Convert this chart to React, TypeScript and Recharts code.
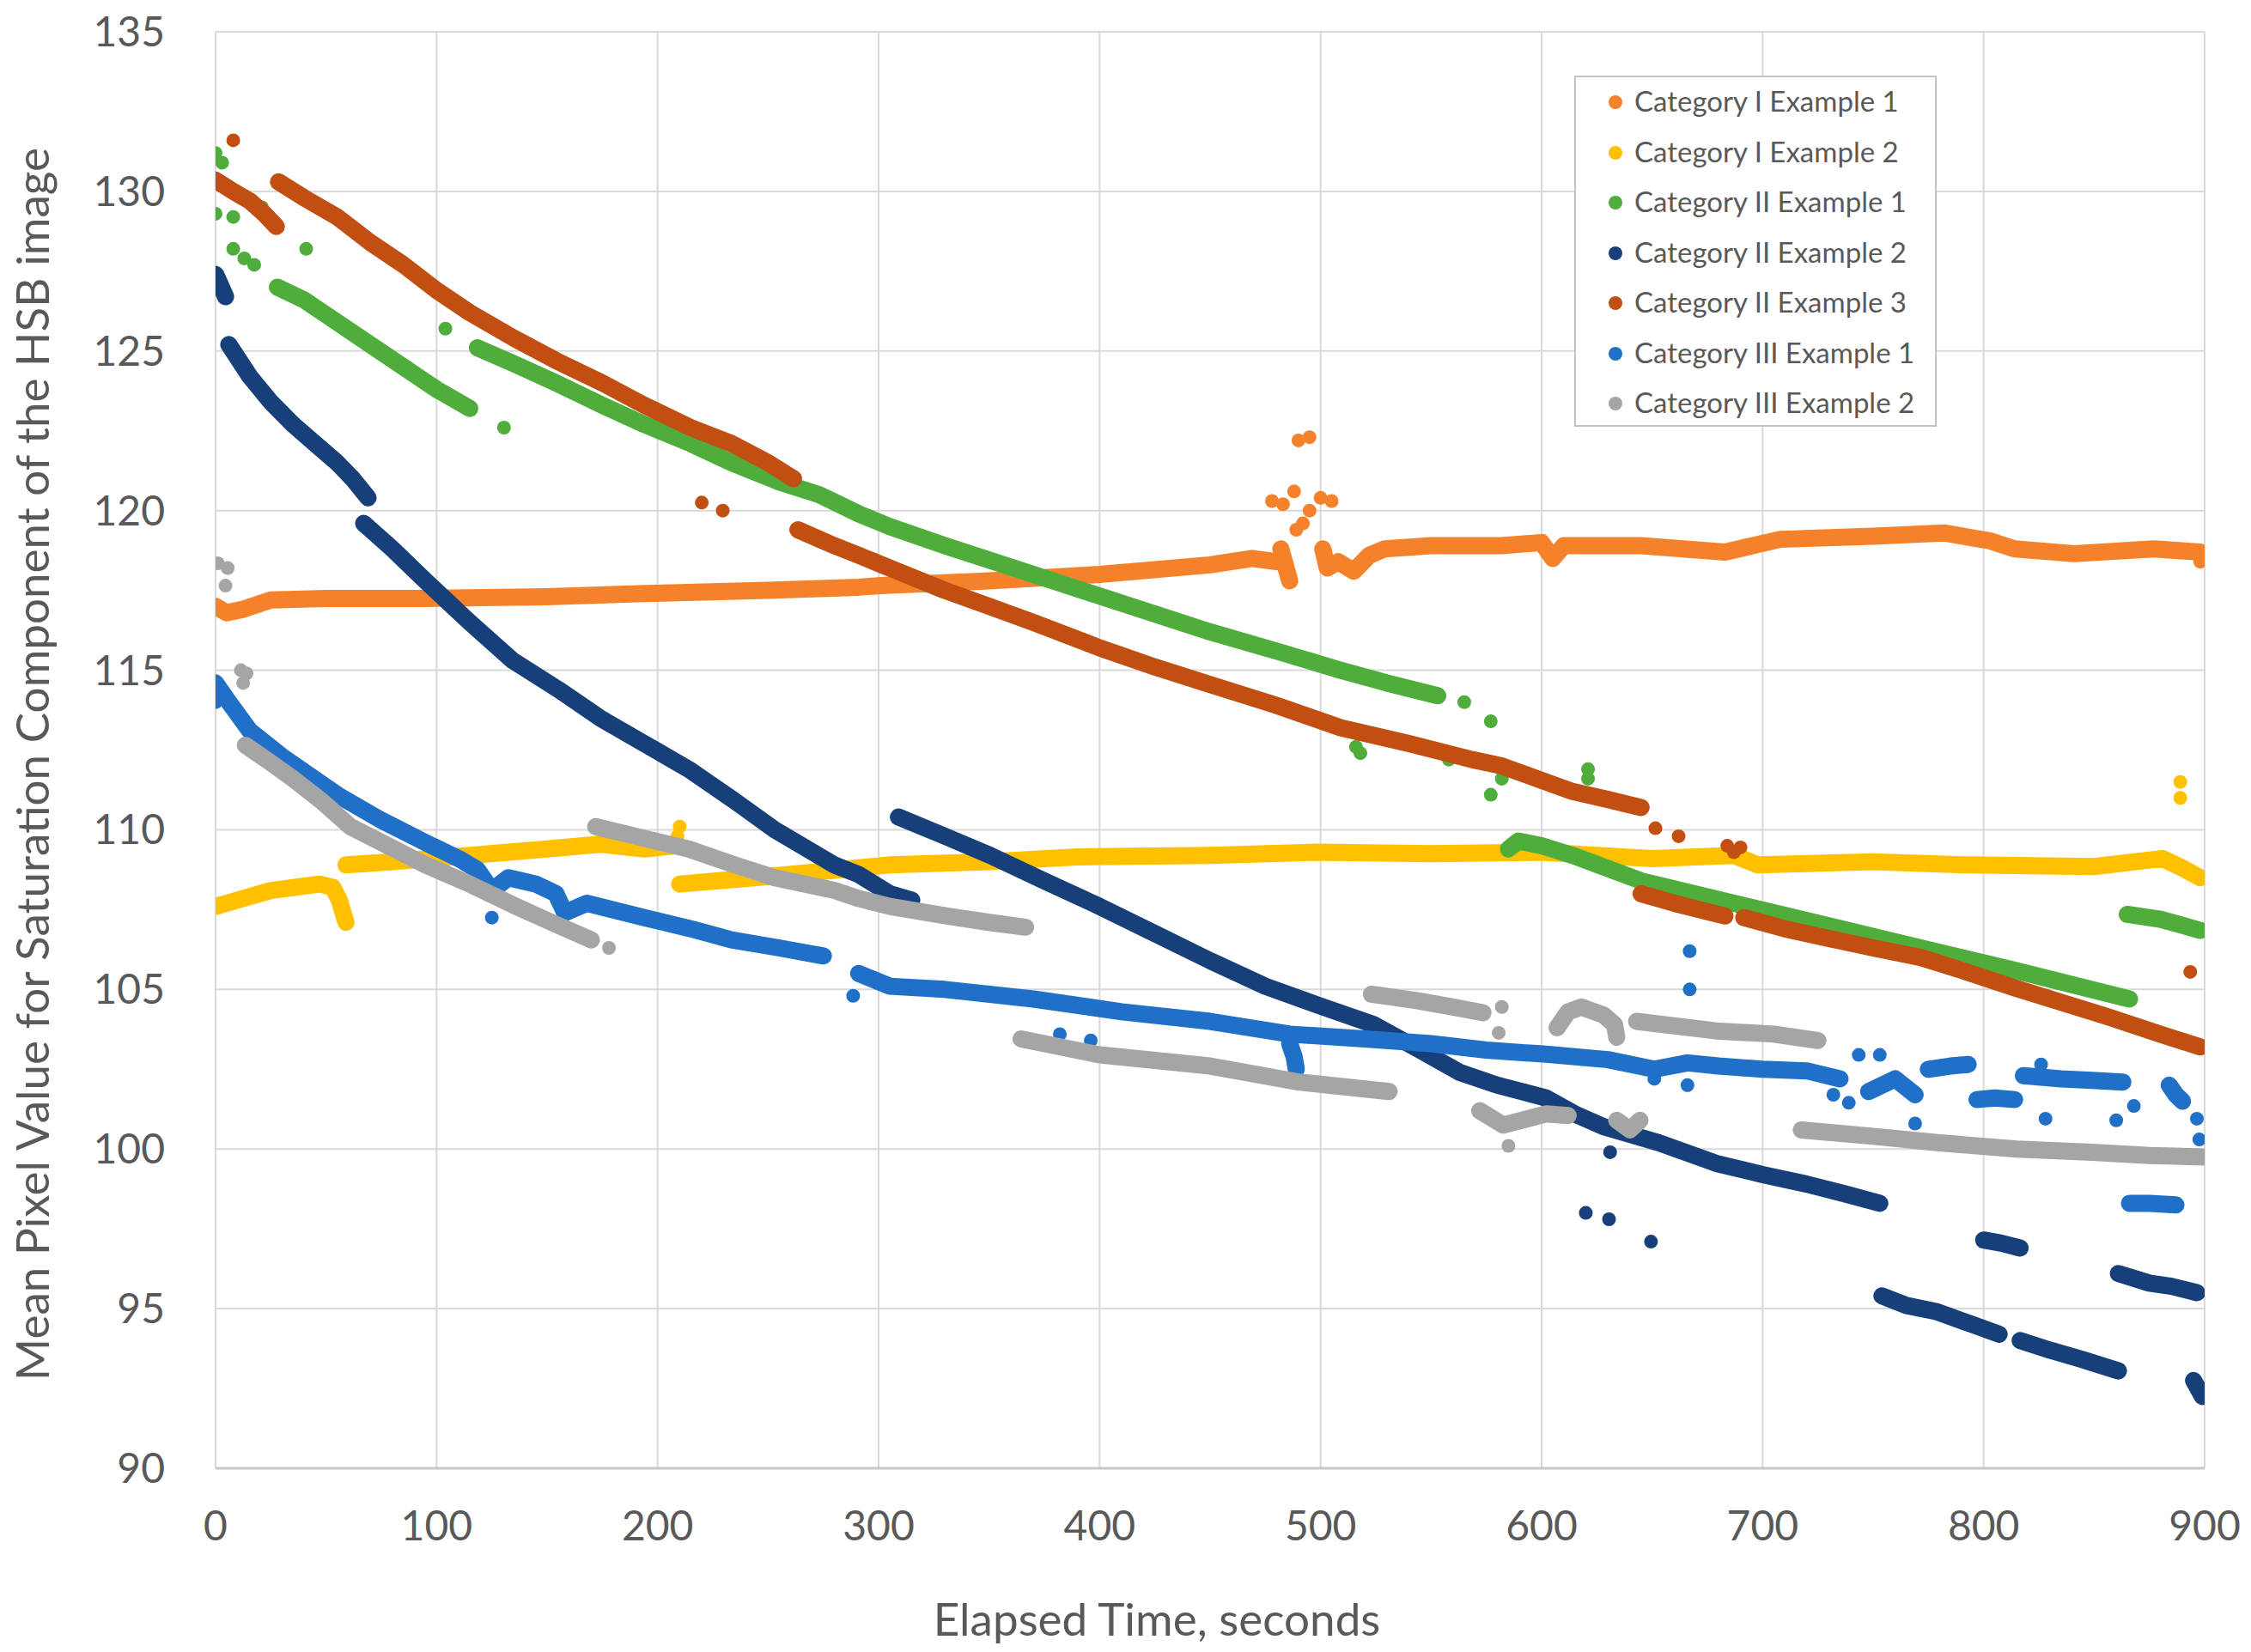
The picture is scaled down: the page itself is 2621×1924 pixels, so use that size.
import React from 'react';
import { ScatterChart, Scatter, XAxis, YAxis, CartesianGrid, Legend, Label } from 'recharts';

type Pt = [number, number];

const xTicks = [0, 100, 200, 300, 400, 500, 600, 700, 800, 900];
const yTicks = [90, 95, 100, 105, 110, 115, 120, 125, 130, 135];

// Category I Example 1
const catI1Segments: Pt[][] = [
  [[0, 117.0], [5, 116.8], [12, 116.9], [25, 117.2], [50, 117.25], [95, 117.25], [150, 117.3], [194, 117.4], [250, 117.5], [291, 117.6], [301, 117.65], [350, 117.8], [400, 118.0], [450, 118.3], [469, 118.5], [480, 118.4]],
  [[482, 118.8], [484, 118.3], [486, 117.8]],
  [[501, 118.8], [503, 118.2], [508, 118.4], [515, 118.1], [522, 118.6], [529, 118.8], [550, 118.9], [582, 118.9], [600, 119.0], [605, 118.5], [610, 118.9], [645, 118.9], [683, 118.7], [708, 119.1], [750, 119.2], [782, 119.3], [803, 119.05], [814, 118.8], [841, 118.65], [877, 118.8], [898, 118.7]],
];
const catI1Points: Pt[] = [[478, 120.3], [483, 120.2], [488, 120.6], [490, 122.2], [495, 122.3], [495, 120.0], [500, 120.4], [505, 120.3], [489, 119.4], [492, 119.6], [898, 118.4]];

// Category I Example 2
const catI2Segments: Pt[][] = [
  [[0, 107.6], [10, 107.8], [25, 108.1], [47, 108.3], [53, 108.2], [56, 107.8], [59, 107.1]],
  [[59, 108.9], [80, 109.0], [115, 109.2], [150, 109.4], [174, 109.55], [194, 109.4], [208, 109.5]],
  [[210, 108.3], [244, 108.5], [275, 108.7], [305, 108.9], [350, 109.0], [390, 109.15], [450, 109.2], [499, 109.3], [550, 109.25], [600, 109.3], [650, 109.1], [687, 109.2], [698, 108.9], [750, 109.0], [793, 108.9], [850, 108.85], [881, 109.1], [890, 108.8], [898, 108.5]],
];
const catI2Points: Pt[] = [[210, 110.1], [209, 109.8], [889, 111.5], [889, 111.0]];

// Category II Example 1
const catII1Segments: Pt[][] = [
  [[28, 127.0], [40, 126.6], [55, 125.9], [70, 125.2], [85, 124.5], [100, 123.8], [115, 123.2]],
  [[118.5, 125.1], [135, 124.6], [154, 124.0], [175, 123.3], [194, 122.7], [215, 122.1], [233.5, 121.5], [255, 120.9], [273, 120.5], [291, 119.9], [305, 119.5], [330, 118.9], [370, 118.0], [410, 117.1], [450, 116.2], [480, 115.6], [509, 115.0], [530, 114.6], [553, 114.2]],
  [[585, 109.4], [589.5, 109.65], [600, 109.5], [614, 109.2], [645, 108.4], [687, 107.7], [729.5, 107.0], [771.5, 106.3], [814, 105.6], [840, 105.15], [866, 104.7]],
  [[865, 107.35], [880, 107.2], [898, 106.85]],
];
const catII1Points: Pt[] = [[0, 131.2], [3, 130.9], [0, 129.3], [8, 129.2], [21, 129.5], [8, 128.2], [13, 127.9], [17.5, 127.7], [41, 128.2], [104, 125.7], [130.5, 122.6], [565, 114.0], [577, 113.4], [516, 112.6], [518, 112.4], [558, 112.2], [577, 111.1], [582, 111.6], [621, 111.9], [621, 111.6]];

// Category II Example 2
const catII2Segments: Pt[][] = [
  [[0, 127.4], [2, 127.1], [4.5, 126.7]],
  [[6, 125.2], [15.5, 124.2], [25, 123.4], [35, 122.7], [45, 122.1], [55, 121.5], [62, 121.0], [69, 120.4]],
  [[67, 119.6], [80, 118.8], [95, 117.8], [115, 116.5], [134.5, 115.3], [155, 114.4], [174, 113.5], [194, 112.7], [214, 111.9], [235, 110.9], [253, 110.0], [280, 108.9], [291, 108.6], [305, 108.0], [315, 107.8]],
  [[309, 110.4], [330, 109.8], [350.5, 109.2], [375, 108.4], [400, 107.6], [425, 106.75], [450, 105.9], [475, 105.1], [499, 104.5], [524, 103.9], [545, 103.1], [563, 102.4], [580, 102.0], [602, 101.6], [615, 101.1], [628, 100.7], [653, 100.2], [679, 99.55], [700, 99.2], [720, 98.9], [737, 98.6], [753, 98.3]],
  [[754, 95.4], [765, 95.1], [779, 94.9], [795, 94.5], [807, 94.2]],
  [[800, 97.15], [808, 97.05], [816.5, 96.9]],
  [[816.5, 94.0], [830, 93.7], [845, 93.4], [861, 93.05]],
  [[861, 96.1], [875, 95.8], [885, 95.7], [896.5, 95.5]],
  [[895, 92.75], [899, 92.25]],
];
const catII2Points: Pt[] = [[620, 98.0], [630.5, 97.8], [649.5, 97.1], [631, 99.9]];

// Category II Example 3
const catII3Segments: Pt[][] = [
  [[0, 130.35], [8, 130.0], [15.5, 129.7], [22, 129.3], [27.5, 128.9]],
  [[28.5, 130.3], [40, 129.8], [55, 129.2], [70, 128.4], [85, 127.7], [100, 126.9], [115, 126.2], [135, 125.4], [154, 124.7], [175, 124.0], [194, 123.3], [215, 122.6], [233.5, 122.1], [250, 121.5], [261.5, 121.0]],
  [[263.5, 119.4], [280, 118.9], [291, 118.6], [305, 118.2], [330, 117.5], [350, 117.0], [370, 116.5], [400, 115.7], [425, 115.1], [450, 114.55], [480, 113.9], [509, 113.2], [540, 112.7], [568.5, 112.2], [582, 112.0], [600, 111.55], [614, 111.2], [630, 110.95], [645, 110.7]],
  [[645, 108.0], [660, 107.7], [683, 107.3]],
  [[691.5, 107.25], [710, 106.9], [729.5, 106.6], [750, 106.3], [771.5, 106.0], [790, 105.6], [814, 105.05], [835, 104.6], [856, 104.15], [880, 103.6], [898, 103.2]],
];
const catII3Points: Pt[] = [[8, 131.6], [220, 120.25], [229.5, 120.0], [651.5, 110.05], [662, 109.8], [684, 109.5], [687, 109.3], [690, 109.45], [893.5, 105.55]];

// Category III Example 1
const catIII1Segments: Pt[][] = [
  [[0, 114.6], [5, 114.1], [15.5, 113.1], [30, 112.3], [55, 111.1], [75, 110.3], [95, 109.6], [110, 109.1], [118.5, 108.75], [125, 108.1], [132.5, 108.5], [145, 108.3], [154, 108.0], [158, 107.4], [168, 107.7], [194, 107.25], [215, 106.9], [233.5, 106.55], [255, 106.3], [275, 106.05]],
  [[291, 105.5], [305, 105.1], [330, 105.0], [370, 104.7], [410, 104.3], [450, 104.0], [486, 103.6], [520, 103.45], [550, 103.3], [575, 103.1], [602, 102.97], [630, 102.8], [651, 102.5], [666, 102.7], [680, 102.6], [700, 102.5], [720, 102.45], [735, 102.2]],
  [[486, 103.3], [488, 102.9], [489, 102.5]],
  [[748, 101.8], [760, 102.2], [769, 101.7]],
  [[775, 102.5], [785, 102.6], [793, 102.65]],
  [[797, 101.55], [805, 101.6], [814, 101.55]],
  [[818, 102.3], [835, 102.2], [849, 102.15], [863, 102.1]],
  [[884, 102.0], [887, 101.7], [890, 101.5]],
  [[866, 98.3], [875, 98.3], [887, 98.25]],
];
const catIII1Points: Pt[] = [[0, 114.0], [125, 107.25], [288.5, 104.8], [382, 103.6], [396, 103.4], [651, 102.2], [666, 102.0], [732, 101.7], [739, 101.45], [743.5, 102.95], [753, 102.95], [755, 102.0], [769, 100.8], [826, 102.65], [828, 100.95], [860, 100.9], [868, 101.35], [896.5, 100.95], [897.6, 100.3], [667, 106.2], [667, 105.0]];

// Category III Example 2
const catIII2Segments: Pt[][] = [
  [[13.5, 112.65], [25, 112.1], [35, 111.6], [48, 110.9], [61, 110.1], [78, 109.5], [95, 108.9], [115, 108.3], [134.5, 107.65], [152, 107.1], [170, 106.55]],
  [[172, 110.1], [190, 109.8], [214, 109.4], [235, 108.9], [253, 108.5], [280, 108.1], [291, 107.85], [305, 107.6], [331, 107.3], [350, 107.1], [366.5, 106.95]],
  [[364.5, 103.45], [400, 102.95], [450, 102.6], [490, 102.1], [531, 101.8]],
  [[523, 104.85], [543.5, 104.65], [560, 104.45], [573.5, 104.27]],
  [[572, 101.2], [582.6, 100.75], [602, 101.1], [612, 101.05]],
  [[607, 103.8], [612, 104.3], [618, 104.45], [628, 104.2], [633, 103.9], [634, 103.5]],
  [[634, 100.9], [640, 100.6], [644.5, 100.9]],
  [[643, 104.0], [679, 103.7], [705, 103.6], [725, 103.4]],
  [[717.5, 100.6], [750, 100.4], [779, 100.2], [815, 100.0], [849, 99.9], [875, 99.8], [899, 99.75]],
];
const catIII2Points: Pt[] = [[1, 118.35], [5.5, 118.2], [4.5, 117.65], [11.5, 115.0], [12.5, 114.6], [14, 114.9], [178, 106.3], [582, 104.45], [580.6, 103.64], [585, 100.1]];

const SERIES = [
  { name: 'Category I Example 1', color: '#F5822A', segments: catI1Segments, points: catI1Points },
  { name: 'Category I Example 2', color: '#FFC000', segments: catI2Segments, points: catI2Points },
  { name: 'Category II Example 1', color: '#4EAD3B', segments: catII1Segments, points: catII1Points },
  { name: 'Category II Example 2', color: '#17407A', segments: catII2Segments, points: catII2Points },
  { name: 'Category II Example 3', color: '#C24F12', segments: catII3Segments, points: catII3Points },
  { name: 'Category III Example 1', color: '#2170C8', segments: catIII1Segments, points: catIII1Points },
  { name: 'Category III Example 2', color: '#A5A5A5', segments: catIII2Segments, points: catIII2Points },
];

const FONT = 'Lato, "Open Sans", sans-serif';
const TEXT = '#595959';

const toRows = (pts: Pt[]) => pts.map(([t, v]) => ({ t, v }));

const makeDot = (color: string) => (props: any) =>
  props.cx == null ? null : <circle cx={props.cx} cy={props.cy} r={8} fill={color} />;

const LegendBox = () => (
  <div
    style={{
      width: 418,
      height: 405,
      border: '2px solid #c3c3c3',
      background: '#fff',
      fontFamily: FONT,
      fontSize: 33,
      color: TEXT,
    }}
  >
    {SERIES.map((s) => (
      <div key={s.name} style={{ height: 58.5, display: 'flex', alignItems: 'center' }}>
        <span
          style={{
            display: 'inline-block',
            width: 16,
            height: 16,
            borderRadius: 8,
            background: s.color,
            marginLeft: 38,
            marginRight: 14,
          }}
        />
        <span style={{ whiteSpace: 'nowrap', marginTop: -4 }}>{s.name}</span>
      </div>
    ))}
  </div>
);

export default function App() {
  return (
    <div style={{ position: 'absolute', left: 0, top: 0, background: '#fff' }}>
      <ScatterChart width={2621} height={1924} margin={{ top: 37, right: 54, bottom: 0, left: 0 }}>
        <CartesianGrid stroke="#d9d9d9" strokeWidth={2} />
        <XAxis
          type="number"
          dataKey="t"
          domain={[0, 900]}
          ticks={xTicks}
          interval={0}
          height={214}
          tickSize={0}
          tickMargin={50}
          tickLine={false}
          axisLine={{ stroke: '#c8c8c8', strokeWidth: 3 }}
          tick={{ fill: TEXT, fontSize: 48, fontFamily: FONT }}
          allowDataOverflow
        >
          <Label
            content={() => (
              <text x={1347} y={1905} textAnchor="middle" fill={TEXT} fontSize={53} fontFamily={FONT}>
                Elapsed Time, seconds
              </text>
            )}
          />
        </XAxis>
        <YAxis
          type="number"
          dataKey="v"
          domain={[90, 135]}
          ticks={yTicks}
          interval={0}
          width={251}
          tickSize={0}
          tickMargin={59}
          tickLine={false}
          axisLine={false}
          tick={{ fill: TEXT, fontSize: 48, fontFamily: FONT }}
          allowDataOverflow
        >
          <Label
            content={() => (
              <text
                x={57}
                y={890}
                transform="rotate(-90 57 890)"
                textAnchor="middle"
                fill={TEXT}
                fontSize={53}
                fontFamily={FONT}
              >
                Mean Pixel Value for Saturation Component of the HSB image
              </text>
            )}
          />
        </YAxis>
        <Legend
          layout="vertical"
          align="center"
          verticalAlign="middle"
          wrapperStyle={{ left: 1833, top: 88, width: 'auto' }}
          content={() => <LegendBox />}
        />
        {SERIES.flatMap((s, si) => [
          ...s.segments.map((seg, gi) => (
            <Scatter
              key={`s${si}-g${gi}`}
              name={s.name}
              data={toRows(seg)}
              fill={s.color}
              line={{ stroke: s.color, strokeWidth: 20, strokeLinecap: 'round', strokeLinejoin: 'round' }}
              lineType="joint"
              shape={makeDot(s.color)}
              legendType="none"
              isAnimationActive={false}
            />
          )),
          <Scatter
            key={`s${si}-p`}
            name={s.name}
            data={toRows(s.points)}
            fill={s.color}
            shape={makeDot(s.color)}
            legendType="none"
            isAnimationActive={false}
          />,
        ])}
      </ScatterChart>
    </div>
  );
}
